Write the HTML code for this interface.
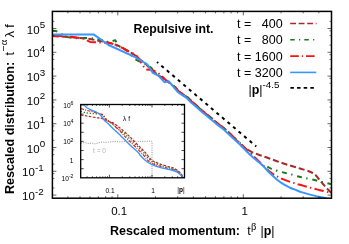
<!DOCTYPE html>
<html><head><meta charset="utf-8"><style>
html,body{margin:0;padding:0;background:#fff;}
body{width:349px;height:244px;overflow:hidden;position:relative;font-family:"Liberation Sans",sans-serif;}
</style></head><body>
<svg width="349" height="244" viewBox="0 0 349 244" style="position:absolute;left:0;top:0;will-change:transform;opacity:0.999">
<rect width="349" height="244" fill="#fff"/>
<clipPath id="c"><rect x="52.4" y="11.4" width="279.1" height="186.79999999999998"/></clipPath>
<g clip-path="url(#c)" fill="none" stroke-linejoin="round">
<path d="M52.5,36.0 L60.0,36.5 L70.0,37.0 L80.0,38.0 L90.0,39.0 L100.0,41.0 L110.0,43.0 L118.0,45.5 L126.0,50.0 L134.0,54.5 L140.0,59.5 L146.0,64.0 L152.0,71.0 L158.0,75.0 L166.0,80.0 L175.4,87.3 L179.0,91.6 L187.6,97.3 L191.9,101.6 L196.1,105.1 L203.1,111.4 L210.4,117.3 L217.1,123.0 L224.8,128.8 L233.1,136.6 L239.0,143.0 C239.9,143.8 242.5,146.5 244.6,148.0 C246.7,149.5 248.9,150.6 251.5,151.8 C254.1,153.0 256.9,154.0 260.0,155.2 C263.1,156.3 266.7,157.5 270.0,158.7 C273.3,159.9 276.7,161.2 280.0,162.3 C283.3,163.4 286.7,164.5 290.0,165.5 C293.3,166.5 296.7,167.5 300.0,168.5 C303.3,169.5 307.5,170.7 310.0,171.7 C312.5,172.7 313.7,173.5 315.0,174.6 C316.3,175.7 317.1,176.9 318.0,178.0 C318.9,179.1 319.6,180.0 320.4,181.0 C321.2,182.0 322.1,183.0 323.0,184.0 C323.9,185.0 324.8,186.1 325.6,187.0 C326.4,187.9 327.3,188.8 328.0,189.5 C328.7,190.2 329.4,190.9 330.0,191.5 C330.6,192.1 331.2,192.8 331.5,193.0" stroke="#a52a2a" stroke-width="2" stroke-dasharray="6.1,2.9"/>
<path d="M52.5,30.7 L56.0,31.0 L60.7,33.7 L67.2,36.9 L73.6,38.3 L80.0,38.0 L88.0,38.0 L95.7,38.6 L102.2,40.0 L108.6,42.2 L115.3,40.3 L118.6,45.8 L120.8,47.2 L128.0,51.0 L134.3,58.6 L139.3,61.5 L146.5,64.3 L151.5,68.0 L154.0,72.0 L158.0,75.0 L166.0,80.0 L175.5,87.6 L179.1,91.9 L187.7,97.6 L192.0,101.9 L196.2,105.4 L203.2,111.7 L210.5,117.6 L217.2,123.3 L224.9,129.1 L233.2,136.9 L241.2,144.3 L258.0,161.0 C258.4,161.5 259.7,163.1 260.7,163.9 C261.7,164.7 262.7,165.0 264.0,165.6 C265.3,166.2 267.2,166.7 268.6,167.3 C270.0,167.9 270.8,168.6 272.2,169.2 C273.6,169.8 275.1,170.2 277.2,170.8 C279.3,171.4 282.7,172.3 285.0,172.9 C287.3,173.5 288.4,173.7 290.8,174.3 C293.2,175.0 297.0,176.2 299.4,176.8 C301.8,177.4 302.5,177.5 305.0,178.0 C307.5,178.5 311.6,179.3 314.4,180.0 C317.2,180.7 319.2,181.3 322.0,182.0 C324.8,182.7 329.5,183.8 331.0,184.2" stroke="#1a7a1a" stroke-width="2" stroke-dasharray="5,4.6,1.4,4.6"/>
<path d="M52.5,35.9 L61.0,36.0 L71.5,36.8 L83.0,38.5 L90.0,41.9 L95.0,42.2 L104.0,42.6 L112.0,43.6 L124.0,48.6 L127.0,50.8 L135.0,54.3 L137.2,56.5 L140.0,60.8 L143.6,66.5 L146.5,69.4 L149.5,69.7 L152.2,70.0 L158.0,73.0 L163.0,77.2 L166.0,80.5 L175.3,87.4 L178.9,91.7 L187.5,97.4 L191.8,101.7 L196.0,105.2 L203.0,111.5 L210.3,117.4 L217.0,123.1 L224.7,128.9 L233.0,136.7 L241.0,144.1 L268.6,170.8 C269.6,171.5 272.8,174.0 274.3,175.0 C275.8,176.0 276.4,176.1 277.6,176.7 C278.8,177.3 279.5,177.8 281.5,178.6 C283.5,179.4 286.9,180.7 289.4,181.6 C291.9,182.5 294.1,183.1 296.5,183.8 C298.9,184.5 301.4,185.3 303.7,185.9 C305.9,186.5 307.3,186.9 310.0,187.6 C312.7,188.3 316.5,189.3 320.0,190.2 C323.5,191.1 329.2,192.4 331.0,192.8" stroke="#ff1010" stroke-width="2" stroke-dasharray="9.5,3.3,1.4,3.3"/>
<path d="M52.5,34.4 L93.6,34.4 L108.6,45.0 L135.1,57.1 L140.0,60.0 L147.2,64.3 L152.9,72.9 L158.6,75.8 L164.4,82.2 L168.7,81.2 L174.3,87.9 L177.9,92.2 L186.5,97.9 L190.8,102.2 L195.0,105.7 L202.0,112.0 L209.3,117.9 L216.0,123.6 L223.7,129.4 L232.0,137.2 L240.0,144.6 C241.9,146.5 247.7,152.5 251.5,156.0 C255.3,159.5 259.9,163.0 262.9,165.8 C265.9,168.6 267.0,170.4 269.3,172.6 C271.6,174.8 274.1,177.2 276.5,179.2 C278.9,181.2 281.3,182.9 283.7,184.4 C286.1,185.9 288.7,187.0 290.8,188.0 C292.9,189.0 294.5,189.4 296.5,190.2 C298.5,191.0 300.8,191.9 303.0,192.6 C305.2,193.3 307.2,193.9 310.0,194.6 C312.8,195.3 317.2,196.4 320.0,197.0 C322.8,197.6 325.8,198.2 327.0,198.4" stroke="#3a96ff" stroke-width="2"/>
<path d="M157,62 L256.2,146.4" stroke="#000" stroke-width="2" stroke-dasharray="3.2,4.05" stroke-dashoffset="1.6"/>
</g>
<rect x="52.4" y="11.4" width="279.1" height="186.79999999999998" fill="none" stroke="#000" stroke-width="1.5"/>
<path d="M52.4,195.10h4 M331.5,195.10h-4 M52.4,187.94h2 M331.5,187.94h-2 M52.4,178.46h2 M331.5,178.46h-2 M52.4,173.61h2 M331.5,173.61h-2 M52.4,171.30h4 M331.5,171.30h-4 M52.4,164.14h2 M331.5,164.14h-2 M52.4,154.66h2 M331.5,154.66h-2 M52.4,149.81h2 M331.5,149.81h-2 M52.4,147.50h4 M331.5,147.50h-4 M52.4,140.34h2 M331.5,140.34h-2 M52.4,130.86h2 M331.5,130.86h-2 M52.4,126.01h2 M331.5,126.01h-2 M52.4,123.70h4 M331.5,123.70h-4 M52.4,116.54h2 M331.5,116.54h-2 M52.4,107.06h2 M331.5,107.06h-2 M52.4,102.21h2 M331.5,102.21h-2 M52.4,99.90h4 M331.5,99.90h-4 M52.4,92.74h2 M331.5,92.74h-2 M52.4,83.26h2 M331.5,83.26h-2 M52.4,78.41h2 M331.5,78.41h-2 M52.4,76.10h4 M331.5,76.10h-4 M52.4,68.94h2 M331.5,68.94h-2 M52.4,59.46h2 M331.5,59.46h-2 M52.4,54.61h2 M331.5,54.61h-2 M52.4,52.30h4 M331.5,52.30h-4 M52.4,45.14h2 M331.5,45.14h-2 M52.4,35.66h2 M331.5,35.66h-2 M52.4,30.81h2 M331.5,30.81h-2 M52.4,28.50h4 M331.5,28.50h-4 M52.4,21.34h2 M331.5,21.34h-2 M67.86,198.2v-2 M67.86,11.4v2 M80.02,198.2v-2 M80.02,11.4v2 M89.96,198.2v-2 M89.96,11.4v2 M98.36,198.2v-2 M98.36,11.4v2 M105.64,198.2v-2 M105.64,11.4v2 M112.06,198.2v-2 M112.06,11.4v2 M117.80,198.2v-4 M117.80,11.4v4 M155.58,198.2v-2 M155.58,11.4v2 M177.68,198.2v-2 M177.68,11.4v2 M193.36,198.2v-2 M193.36,11.4v2 M205.52,198.2v-2 M205.52,11.4v2 M215.46,198.2v-2 M215.46,11.4v2 M223.86,198.2v-2 M223.86,11.4v2 M231.14,198.2v-2 M231.14,11.4v2 M237.56,198.2v-2 M237.56,11.4v2 M243.30,198.2v-4 M243.30,11.4v4 M281.08,198.2v-2 M281.08,11.4v2 M303.18,198.2v-2 M303.18,11.4v2 M318.86,198.2v-2 M318.86,11.4v2" stroke="#000" stroke-width="0.6" fill="none"/>
<rect x="80.7" y="104.5" width="103.8" height="73.30000000000001" fill="#fff"/>
<clipPath id="ci"><rect x="80.7" y="104.5" width="103.8" height="73.30000000000001"/></clipPath>
<g clip-path="url(#ci)" fill="none" stroke-linejoin="round">
<path d="M81.0,143.0 L85.0,142.5 L88.0,143.5 L92.0,143.0 L95.0,144.0 L98.0,143.0 L102.0,142.0 L106.0,142.5 L110.0,142.0 L115.0,141.5 L120.0,142.0 L125.0,141.3 L130.0,141.8 L135.0,141.2 L140.0,141.5 L146.0,141.2 L152.0,141.2 L152.0,177.4" stroke="#909090" stroke-width="1" stroke-dasharray="1,1.3"/>
<path d="M80.9,115.0 C81.9,115.2 84.7,115.7 86.6,116.0 C88.5,116.3 90.4,116.6 92.3,116.9 C94.2,117.2 96.5,117.7 98.0,117.9 C99.5,118.1 100.4,118.0 101.6,118.3 C102.8,118.6 104.0,119.5 105.2,120.0 C106.4,120.5 107.5,121.0 108.8,121.5 C110.1,122.0 111.5,122.1 113.1,122.9 C114.6,123.7 116.5,125.3 118.1,126.5 C119.6,127.7 120.8,128.7 122.4,130.0 C124.0,131.3 126.1,133.3 127.5,134.6 C128.9,135.9 129.4,136.2 131.0,137.9 C132.6,139.6 135.0,142.1 137.3,144.5 C139.6,146.9 142.7,149.7 145.0,152.2 C147.3,154.7 149.0,157.7 151.0,159.5 C153.0,161.3 154.7,161.8 157.2,162.9 C159.7,164.0 163.2,165.0 165.8,165.8 C168.4,166.6 171.0,167.1 173.0,167.9 C175.0,168.7 176.6,169.7 178.0,170.8 C179.4,171.9 180.6,173.2 181.5,174.4 C182.4,175.6 183.3,177.4 183.7,178.0" stroke="#a52a2a" stroke-width="1.2" stroke-dasharray="2.6,1.4"/>
<path d="M80.9,111.2 C81.9,111.5 84.7,112.5 86.6,112.9 C88.5,113.3 90.4,113.4 92.3,113.6 C94.2,113.8 96.3,113.8 98.0,113.9 C99.7,114.0 101.2,113.6 102.4,114.3 C103.6,115.0 104.3,116.8 105.2,117.9 C106.1,119.0 106.8,119.8 108.0,120.8 C109.2,121.8 111.0,122.9 112.4,124.1 C113.9,125.3 115.3,126.8 116.7,127.9 C118.1,129.0 119.6,129.7 121.0,130.8 C122.4,131.9 123.8,133.2 125.3,134.6 C126.8,136.0 128.1,137.2 130.0,139.0 C131.9,140.8 134.2,143.2 136.5,145.5 C138.8,147.8 141.8,150.6 144.0,153.0 C146.2,155.4 148.0,158.2 150.0,160.0 C152.0,161.8 153.4,162.5 155.8,163.6 C158.2,164.7 161.7,165.7 164.5,166.5 C167.3,167.3 170.3,167.9 172.5,168.7 C174.7,169.5 176.3,170.4 177.8,171.4 C179.3,172.4 180.5,173.8 181.4,174.9 C182.3,176.0 183.2,177.5 183.5,178.0" stroke="#1a7a1a" stroke-width="1.2" stroke-dasharray="1.3,1.7"/>
<path d="M80.9,108.6 C81.9,108.9 84.7,109.8 86.6,110.3 C88.5,110.8 90.4,111.2 92.3,111.7 C94.2,112.2 96.3,112.7 98.0,113.2 C99.7,113.8 101.3,114.2 102.4,115.0 C103.5,115.8 103.8,117.1 104.5,117.9 C105.2,118.7 105.4,119.1 106.7,120.0 C108.0,120.9 110.7,122.2 112.4,123.5 C114.1,124.8 115.3,126.6 116.7,128.0 C118.1,129.4 119.8,130.8 121.0,132.0 C122.2,133.2 122.8,134.2 124.0,135.5 C125.2,136.8 126.7,138.2 128.5,140.0 C130.3,141.8 132.7,144.2 135.0,146.5 C137.3,148.8 140.2,151.6 142.5,154.0 C144.8,156.4 146.5,159.3 148.5,161.0 C150.5,162.7 152.0,163.4 154.5,164.4 C157.0,165.4 160.6,166.4 163.5,167.2 C166.4,168.0 169.7,168.6 172.0,169.4 C174.3,170.2 175.9,170.9 177.5,171.9 C179.1,172.9 180.4,174.4 181.4,175.4 C182.4,176.4 183.0,177.6 183.3,178.0" stroke="#ff1010" stroke-width="1.2" stroke-dasharray="3.2,1.2,1,1.2"/>
<path d="M83.2,104.3 C83.4,104.5 83.6,104.6 84.3,105.2 C85.0,105.8 86.0,107.2 87.2,108.0 C88.5,108.8 90.3,109.6 91.8,110.3 C93.3,111.0 95.0,111.3 96.3,112.0 C97.6,112.7 98.8,113.4 99.8,114.3 C100.8,115.2 101.3,116.2 102.1,117.2 C102.9,118.2 103.5,119.4 104.4,120.4 C105.4,121.4 106.7,122.2 107.8,123.2 C108.9,124.2 110.0,125.5 111.2,126.7 C112.4,127.9 113.8,129.3 115.2,130.6 C116.6,131.9 118.1,133.1 119.6,134.6 C121.1,136.1 122.4,137.4 124.3,139.3 C126.2,141.2 128.6,143.7 131.0,146.0 C133.4,148.3 137.2,151.4 138.7,152.9 C140.2,154.4 138.8,153.7 140.0,155.0 C141.2,156.3 143.8,159.2 145.7,160.8 C147.6,162.4 148.9,163.1 151.5,164.3 C154.1,165.5 158.2,167.0 161.5,167.9 C164.8,168.8 168.9,169.3 171.5,170.0 C174.1,170.7 175.5,171.2 177.2,172.2 C178.9,173.2 180.5,174.8 181.5,175.8 C182.5,176.8 182.8,177.6 183.0,178.0" stroke="#3a96ff" stroke-width="1.4"/>
</g>
<rect x="80.7" y="104.5" width="103.8" height="73.30000000000001" fill="none" stroke="#000" stroke-width="1.3"/>
<path d="M80.7,168.70h3 M184.5,168.70h-3 M80.7,159.60h3 M184.5,159.60h-3 M80.7,150.50h3 M184.5,150.50h-3 M80.7,141.40h3 M184.5,141.40h-3 M80.7,132.30h3 M184.5,132.30h-3 M80.7,123.20h3 M184.5,123.20h-3 M80.7,114.10h3 M184.5,114.10h-3 M80.7,105.00h3 M184.5,105.00h-3 M87.13,177.8v-1.5 M87.13,104.5v1.5 M92.45,177.8v-1.5 M92.45,104.5v1.5 M96.58,177.8v-1.5 M96.58,104.5v1.5 M99.95,177.8v-1.5 M99.95,104.5v1.5 M102.80,177.8v-1.5 M102.80,104.5v1.5 M105.27,177.8v-1.5 M105.27,104.5v1.5 M107.45,177.8v-1.5 M107.45,104.5v1.5 M109.40,177.8v-3 M109.40,104.5v3 M122.22,177.8v-1.5 M122.22,104.5v1.5 M129.73,177.8v-1.5 M129.73,104.5v1.5 M135.05,177.8v-1.5 M135.05,104.5v1.5 M139.18,177.8v-1.5 M139.18,104.5v1.5 M142.55,177.8v-1.5 M142.55,104.5v1.5 M145.40,177.8v-1.5 M145.40,104.5v1.5 M147.87,177.8v-1.5 M147.87,104.5v1.5 M150.05,177.8v-1.5 M150.05,104.5v1.5 M152.00,177.8v-3 M152.00,104.5v3 M164.82,177.8v-1.5 M164.82,104.5v1.5 M172.33,177.8v-1.5 M172.33,104.5v1.5 M177.65,177.8v-1.5 M177.65,104.5v1.5 M181.78,177.8v-1.5 M181.78,104.5v1.5" stroke="#000" stroke-width="0.7" fill="none"/>
<g fill="none" stroke-width="1.6">
<path d="M290.2,23.5H316.5" stroke="#a52a2a" stroke-dasharray="5.8,2.7"/>
<path d="M290.2,39.8H316.5" stroke="#1a7a1a" stroke-dasharray="4.5,4.3,1.2,4.1"/>
<path d="M290.2,56.1H316.5" stroke="#ff1010" stroke-dasharray="8.6,3,1.2,3"/>
<path d="M290.2,72.4H316.3" stroke="#3a96ff"/>
<path d="M290.4,87.9H316.5" stroke="#000" stroke-dasharray="3.5,3.15"/>
</g>
<g font-family="Liberation Sans, sans-serif" font-size="12.5" fill="#000">
<text x="43.6" y="200.2" text-anchor="end" font-size="11.5">10<tspan dy="-5.7" font-size="9.8">-2</tspan></text>
<text x="43.6" y="176.4" text-anchor="end" font-size="11.5">10<tspan dy="-5.7" font-size="9.8">-1</tspan></text>
<text x="45.1" y="152.6" text-anchor="end" font-size="11.5">10<tspan dy="-5.7" font-size="9.8">0</tspan></text>
<text x="45.1" y="128.8" text-anchor="end" font-size="11.5">10<tspan dy="-5.7" font-size="9.8">1</tspan></text>
<text x="45.1" y="105.0" text-anchor="end" font-size="11.5">10<tspan dy="-5.7" font-size="9.8">2</tspan></text>
<text x="45.1" y="81.2" text-anchor="end" font-size="11.5">10<tspan dy="-5.7" font-size="9.8">3</tspan></text>
<text x="45.1" y="57.4" text-anchor="end" font-size="11.5">10<tspan dy="-5.7" font-size="9.8">4</tspan></text>
<text x="45.1" y="33.6" text-anchor="end" font-size="11.5">10<tspan dy="-5.7" font-size="9.8">5</tspan></text>
<text x="119.2" y="214.7" text-anchor="middle" font-size="11.5">0.1</text>
<text x="244.8" y="214.7" text-anchor="middle" font-size="11.5">1</text>
<text x="133.5" y="32.6" font-weight="bold" font-size="12.3">Repulsive int.</text>
<text x="237" y="28.0">t =</text><text x="282.6" y="28.0" text-anchor="end">400</text>
<text x="237" y="44.3">t =</text><text x="282.6" y="44.3" text-anchor="end">800</text>
<text x="237" y="60.6">t =</text><text x="282.6" y="60.6" text-anchor="end">1600</text>
<text x="237" y="76.9">t =</text><text x="282.6" y="76.9" text-anchor="end">3200</text>
<text x="248.4" y="94">|<tspan font-weight="bold">p</tspan>|<tspan dy="-5.6" font-size="9.8">-4.5</tspan></text>
<text x="110" y="234.8" font-weight="bold" textLength="130" lengthAdjust="spacingAndGlyphs">Rescaled momentum:</text>
<text y="234.8"><tspan x="247.3">t</tspan><tspan x="251" dy="-5.2" font-size="10.5" font-family="Liberation Serif, serif">β</tspan><tspan x="260.4" dy="5.2">|</tspan><tspan font-weight="bold">p</tspan>|</text>
<g transform="translate(14.1,193.2) rotate(-90)"><text x="-0.9" y="0" font-weight="bold" textLength="132.2" lengthAdjust="spacingAndGlyphs">Rescaled distribution:</text>
<text y="0"><tspan x="137.6">t</tspan><tspan x="141.9" dy="-7" font-size="10">−</tspan><tspan x="148" font-size="10.5" font-family="Liberation Serif, serif">α</tspan><tspan x="155.8" dy="7" font-size="13.5">λ</tspan><tspan x="165.4">f</tspan></text></g>
</g>
<g font-family="Liberation Sans, sans-serif" font-size="6.6" fill="#000">
<text x="73.5" y="108.0" text-anchor="end">10<tspan dy="-2.8" font-size="5.2">6</tspan></text>
<text x="73.5" y="126.2" text-anchor="end">10<tspan dy="-2.8" font-size="5.2">4</tspan></text>
<text x="73.5" y="144.4" text-anchor="end">10<tspan dy="-2.8" font-size="5.2">2</tspan></text>
<text x="73.5" y="162.6" text-anchor="end">1</text>
<text x="73.5" y="180.8" text-anchor="end">10<tspan dy="-2.8" font-size="5.2">-2</tspan></text>
<text x="110" y="192.7" text-anchor="middle">0.1</text>
<text x="153" y="192.7" text-anchor="middle">1</text>
<text x="177.3" y="192.3">|<tspan font-weight="bold">p</tspan>|</text>
<text x="123" y="120.6">λ f</text>
<text x="93" y="152.8" fill="#b4b4b4">t = 0</text>
</g>
</svg>
</body></html>
